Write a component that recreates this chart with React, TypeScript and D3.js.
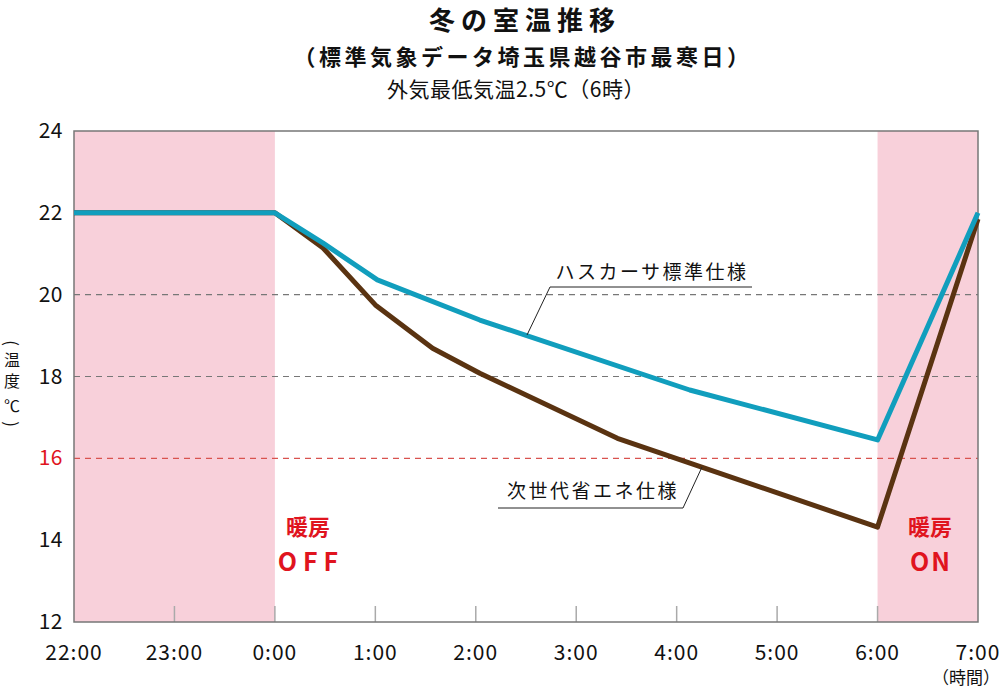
import * as d3 from "d3";

// hours counted from 22:00
const timeLabels = ["22:00", "23:00", "0:00", "1:00", "2:00", "3:00", "4:00", "5:00", "6:00", "7:00"];
const tempTicks = [12, 14, 16, 18, 20, 22, 24];
const guideTemps = [20, 18];
const limitTemp = 16;

const standardHours = [0, 2, 2.48, 3.02, 4.04, 6.13, 8.0, 9];
const standardTemps = [22, 22, 21.26, 20.36, 19.38, 17.67, 16.45, 22];

const ecoHours = [0, 2, 2.48, 3.0, 3.57, 4.04, 5.41, 8.0, 9];
const ecoTemps = [22, 22, 21.14, 19.75, 18.69, 18.08, 16.49, 14.32, 21.85];

const heatingBands = [
    [0, 2],
    [8, 9],
];

const yTitleChars = ["(", "温", "度", "℃", ")"];
const yTitlePos = [343, 359, 380, 405, 424];

const FONT = "'Noto Sans CJK JP', 'Noto Sans', sans-serif";
const RED = "#e0141e";

export default function App() {
    const x = d3.scaleLinear().domain([0, 9]).range([74, 978]);
    const y = d3.scaleLinear().domain([12, 24]).range([622, 131]);

    const line = d3
        .line<[number, number]>()
        .x((d) => x(d[0]))
        .y((d) => y(d[1]));

    const standardPath = line(standardHours.map((h, i) => [h, standardTemps[i]])) || undefined;
    const ecoPath = line(ecoHours.map((h, i) => [h, ecoTemps[i]])) || undefined;

    return (
        <svg
            width={1000}
            height={688}
            style={{ position: "absolute", left: 0, top: 0, background: "#fff" }}
            fontFamily={FONT}
        >
            {/* titles */}
            <text x={525} y={30} textAnchor="middle" fontSize={26} fontWeight="bold" letterSpacing={6} fill="#111">
                冬の室温推移
            </text>
            <text x={523} y={65} textAnchor="middle" fontSize={22} fontWeight="bold" letterSpacing={3.5} fill="#111">
                （標準気象データ埼玉県越谷市最寒日）
            </text>
            <text x={516} y={97} textAnchor="middle" fontSize={21} letterSpacing={0.5} fill="#111">
                外気最低気温2.5℃（6時）
            </text>

            {/* heating on bands */}
            {heatingBands.map(([a, b], i) => (
                <rect key={i} x={x(a)} y={y(24)} width={x(b) - x(a)} height={y(12) - y(24)} fill="#f8d0da" />
            ))}

            {/* guide lines */}
            {guideTemps.map((t) => (
                <line key={t} x1={x(0)} x2={x(9)} y1={y(t)} y2={y(t)} stroke="#777" strokeWidth={1.2} strokeDasharray="6 5" />
            ))}
            <line x1={x(0)} x2={x(9)} y1={y(limitTemp)} y2={y(limitTemp)} stroke="#d9534f" strokeWidth={1.2} strokeDasharray="6 5" />

            {/* hour ticks */}
            {timeLabels.map((_, i) =>
                i > 0 && i < 9 ? (
                    <line key={i} x1={x(i)} x2={x(i)} y1={y(12)} y2={y(12) - 16} stroke="#aaa" strokeWidth={1.5} />
                ) : null
            )}

            {/* frame */}
            <rect x={x(0)} y={y(24)} width={x(9) - x(0)} height={y(12) - y(24)} fill="none" stroke="#777" strokeWidth={1.5} />

            {/* series */}
            <path d={ecoPath} fill="none" stroke="#5a3311" strokeWidth={5} strokeLinejoin="round" />
            <path d={standardPath} fill="none" stroke="#119ebd" strokeWidth={5} strokeLinejoin="round" />

            {/* y labels */}
            {tempTicks.map((t) => (
                <text key={t} x={63} y={y(t) + 7} textAnchor="end" fontSize={21} letterSpacing={0.5} fill={t === limitTemp ? RED : "#111"}>
                    {t}
                </text>
            ))}
            {yTitleChars.map((c, i) =>
                i === 0 || i === yTitleChars.length - 1 ? (
                    <text
                        key={i}
                        x={0}
                        y={0}
                        transform={`translate(12,${yTitlePos[i]}) rotate(90)`}
                        textAnchor="middle"
                        dominantBaseline="central"
                        fontSize={17}
                        fill="#111"
                    >
                        {c}
                    </text>
                ) : (
                    <text key={i} x={12} y={yTitlePos[i]} textAnchor="middle" dominantBaseline="central" fontSize={16} fill="#111">
                        {c}
                    </text>
                )
            )}

            {/* x labels */}
            {timeLabels.map((l, i) => (
                <text key={l} x={x(i)} y={660} textAnchor="middle" fontSize={21} letterSpacing={1} fill="#111">
                    {l}
                </text>
            ))}
            <text x={966} y={684} textAnchor="middle" fontSize={17} fill="#111">
                （時間）
            </text>

            {/* heating labels */}
            <text x={308} y={535} textAnchor="middle" fontSize={22} fontWeight="bold" fill={RED}>
                暖房
            </text>
            <text x={311} y={571} textAnchor="middle" fontSize={25} fontWeight="bold" letterSpacing={6} fill={RED}>
                OFF
            </text>
            <text x={930} y={535} textAnchor="middle" fontSize={22} fontWeight="bold" fill={RED}>
                暖房
            </text>
            <text x={931} y={571} textAnchor="middle" fontSize={25} fontWeight="bold" letterSpacing={2} fill={RED}>
                ON
            </text>

            {/* series annotations */}
            <polyline points="527,335 550,287 752,287" fill="none" stroke="#222" strokeWidth={1} />
            <text x={652} y={279} textAnchor="middle" fontSize={19} letterSpacing={2.5} fill="#111">
                ハスカーサ標準仕様
            </text>
            <polyline points="702,467 683,508 498,508" fill="none" stroke="#222" strokeWidth={1} />
            <text x={593} y={498} textAnchor="middle" fontSize={19} letterSpacing={2.5} fill="#111">
                次世代省エネ仕様
            </text>
        </svg>
    );
}
